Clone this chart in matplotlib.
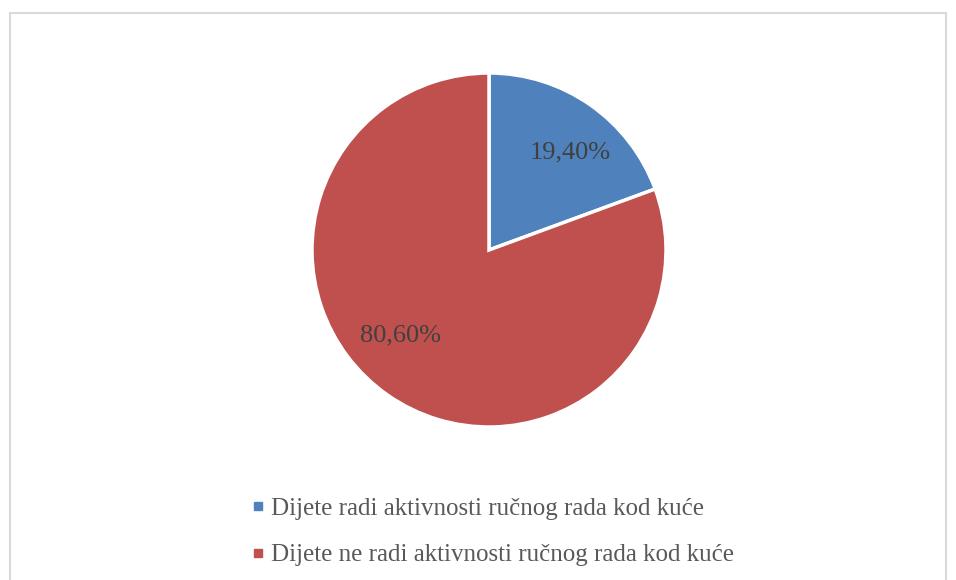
import matplotlib.pyplot as plt
from matplotlib.patches import Rectangle
from matplotlib.lines import Line2D

labels = ['Dijete radi aktivnosti ručnog rada kod kuće',
          'Dijete ne radi aktivnosti ručnog rada kod kuće']
values = [19.4, 80.6]
pct_text = ['19,40%', '80,60%']
colors = ['#4F81BD', '#C0504D']

plt.rcParams['font.family'] = ['Liberation Serif', 'DejaVu Serif']

fig = plt.figure(figsize=(9.56, 5.8), dpi=100)
W, H = 956, 580

# chart border
fig.patches.append(Rectangle((9.5 / W, -0.01), (946 - 9.5) / W, (H - 12.5) / H + 0.01,
                             transform=fig.transFigure, fill=False,
                             edgecolor='#d9d9d9', linewidth=1.5))

ax = fig.add_axes([(489 - 177) / W, (H - 427) / H, 354 / W, 354 / H])
ax.pie(values, colors=colors, startangle=90, counterclock=False,
       wedgeprops=dict(edgecolor='white', linewidth=2.5))
ax.set_xlim(-1, 1)
ax.set_ylim(-1, 1)
ax.set_aspect('equal')

ax.text(0.46, 0.55, pct_text[0], ha='center', va='center', fontsize=19, color='#404040')
ax.text(-0.50, -0.48, pct_text[1], ha='center', va='center', fontsize=19, color='#404040')

handles = [Line2D([], [], marker='s', linestyle='none', markersize=6,
                  markerfacecolor=c, markeredgecolor=c) for c in colors]
fig.legend(handles, labels, loc='upper left', bbox_to_anchor=(227 / W, 1 - 475 / H),
           frameon=False, fontsize=18, labelcolor='#595959', handletextpad=0.15,
           handlelength=0.7, labelspacing=0.95)

fig.savefig('out.png', dpi=100)
